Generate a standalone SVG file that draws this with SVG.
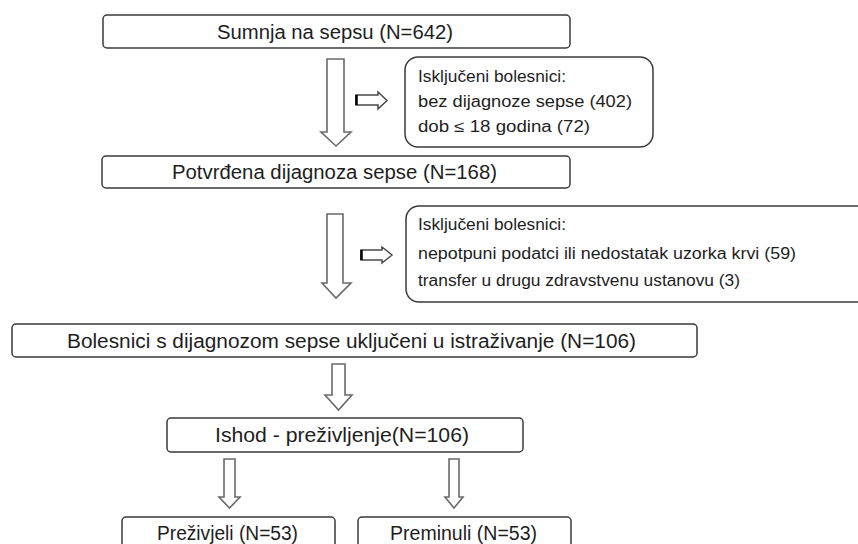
<svg xmlns="http://www.w3.org/2000/svg" width="858" height="544" viewBox="0 0 858 544">
<style>
.box{fill:#fff;stroke:#3a3a3a;stroke-width:1.5}
.t{font-family:"Liberation Sans",Arial,sans-serif;fill:#1e1e1e;font-size:19.5px}
.s{font-family:"Liberation Sans",Arial,sans-serif;fill:#1e1e1e;font-size:16px}
.arr{fill:#fff;stroke:#6a6a6a;stroke-width:1.6;stroke-linejoin:miter}
.sarr{fill:#fff;stroke:#4a4a4a;stroke-width:1.5}
</style>
<rect width="858" height="544" fill="#fff"/>
<g id="n1"><rect class="box" x="103" y="15" width="467" height="33" rx="4"/>
<text class="t" x="217" y="39" textLength="236" lengthAdjust="spacingAndGlyphs">Sumnja na sepsu (N=642)</text></g>
<g id="x1"><rect class="box" x="405" y="57" width="248" height="90" rx="13"/>
<text class="s" x="418" y="82" textLength="148" lengthAdjust="spacingAndGlyphs">Isključeni bolesnici:</text>
<text class="s" x="418" y="107" textLength="214" lengthAdjust="spacingAndGlyphs">bez dijagnoze sepse (402)</text>
<text class="s" x="418" y="132" textLength="172" lengthAdjust="spacingAndGlyphs">dob ≤ 18 godina (72)</text></g>
<g id="n2"><rect class="box" x="102" y="156" width="468" height="32" rx="4"/>
<text class="t" x="172" y="179" textLength="325" lengthAdjust="spacingAndGlyphs">Potvrđena dijagnoza sepse (N=168)</text></g>
<g id="x2"><rect class="box" x="406" y="206" width="470" height="96" rx="13"/>
<text class="s" x="418" y="230" textLength="148" lengthAdjust="spacingAndGlyphs">Isključeni bolesnici:</text>
<text class="s" x="418" y="259" textLength="378" lengthAdjust="spacingAndGlyphs">nepotpuni podatci ili nedostatak uzorka krvi (59)</text>
<text class="s" x="418" y="286" textLength="322" lengthAdjust="spacingAndGlyphs">transfer u drugu zdravstvenu ustanovu (3)</text></g>
<g id="n3"><rect class="box" x="12" y="324" width="685" height="33" rx="4"/>
<text class="t" x="67" y="348" textLength="569" lengthAdjust="spacingAndGlyphs">Bolesnici s dijagnozom sepse uključeni u istraživanje (N=106)</text></g>
<g id="n4"><rect class="box" x="167" y="418" width="356" height="34" rx="4"/>
<text class="t" x="215" y="442" textLength="254" lengthAdjust="spacingAndGlyphs">Ishod - preživljenje(N=106)</text></g>
<g id="n5"><rect class="box" x="122" y="517" width="213" height="40" rx="4"/>
<text class="t" x="157" y="540" textLength="141" lengthAdjust="spacingAndGlyphs">Preživjeli (N=53)</text></g>
<g id="n6"><rect class="box" x="358" y="517" width="213" height="40" rx="4"/>
<text class="t" x="390" y="540" textLength="147" lengthAdjust="spacingAndGlyphs">Preminuli (N=53)</text></g>
<g id="connectors">
<polygon class="arr" points="327,59 344,59 344,132 351,132 336,146 321,132 327,132"/>
<polygon class="arr" points="327,214 343,214 343,283 351,283 336,298 322,283 327,283"/>
<polygon class="arr" points="332,364 345,364 345,395 352,395 338.5,410 325,395 332,395"/>
<polygon class="arr" points="224,459 235,459 235,497 240,497 229.5,508 219,497 224,497"/>
<polygon class="arr" points="449,459 459,459 459,497 463,497 454,508 445,497 449,497"/>
<polygon class="sarr" points="356,95 378,95 378,92 387,100.5 378,109 378,105 356,105"/>
<line x1="356.5" y1="95" x2="356.5" y2="105" stroke="#000" stroke-width="2.5"/>
<polygon class="sarr" points="361,250 382,250 382,247 392,255 382,263 382,260 361,260"/>
<line x1="361.5" y1="250" x2="361.5" y2="260" stroke="#000" stroke-width="2.5"/>
</g>
</svg>
